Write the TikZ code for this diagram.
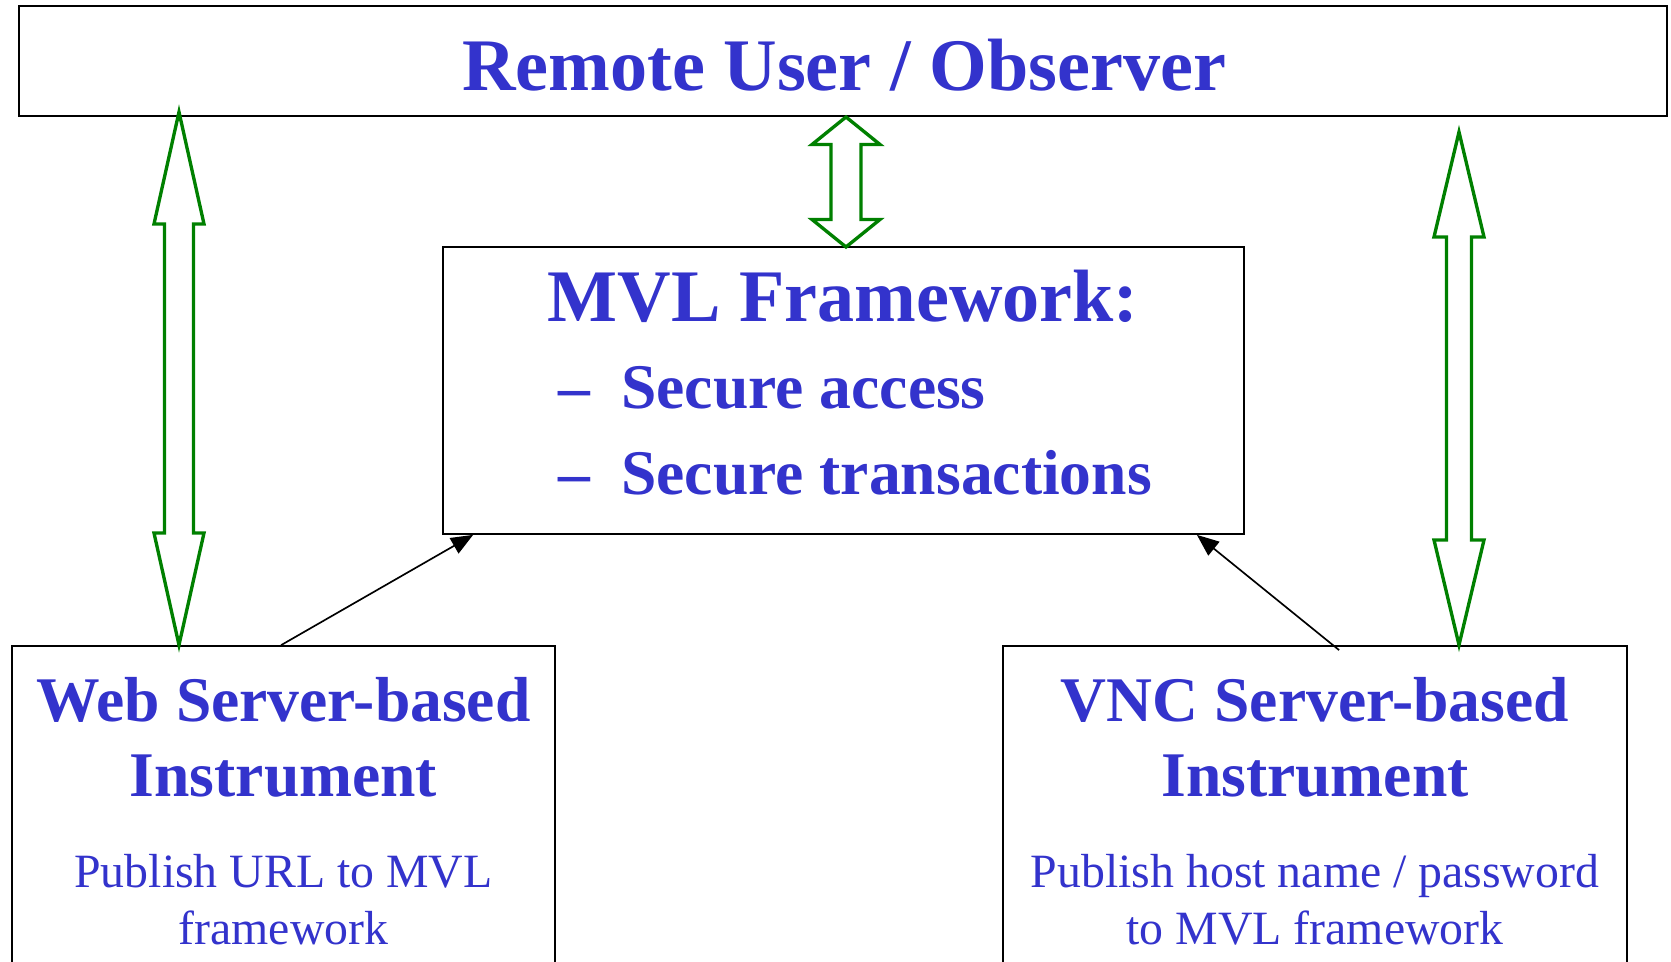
\documentclass[tikz,border=0pt]{standalone}
\usepackage{fontspec}
\setmainfont{Liberation Serif}
\usetikzlibrary{arrows.meta,calc,fit}
\definecolor{txtblue}{RGB}{51,51,204}
\definecolor{arrgreen}{RGB}{0,128,0}

% hollow two-headed block arrow: x, y of top tip, y of bottom tip,
% half width of the heads, half width of the shaft, length of each head
\newcommand{\blockarrow}[6]{%
  \draw[garrow] (#1,#2) -- ({#1+#4},{#2+#6}) -- ({#1+#5},{#2+#6})
    -- ({#1+#5},{#3-#6}) -- ({#1+#4},{#3-#6}) -- (#1,#3)
    -- ({#1-#4},{#3-#6}) -- ({#1-#5},{#3-#6}) -- ({#1-#5},{#2+#6})
    -- ({#1-#4},{#2+#6}) -- cycle;}

\begin{document}
\begin{tikzpicture}[x=0.02cm,y=-0.02cm,
  box/.style={draw=black, line width=1pt, inner sep=0pt},
  garrow/.style={draw=arrgreen, line width=1.9pt, fill=white, line join=miter},
  link/.style={draw=black, line width=0.95pt, -{Triangle[length=12.5pt,width=10pt]}},
  bigtext/.style={text=txtblue, font=\fontsize{42.2}{50}\selectfont\bfseries, anchor=base, inner sep=0pt},
  midtext/.style={text=txtblue, font=\fontsize{36.2}{43}\selectfont\bfseries, anchor=base, inner sep=0pt},
  smalltext/.style={text=txtblue, font=\fontsize{27.2}{32}\selectfont, anchor=base, inner sep=0pt}]
\clip (0,0) rectangle (1671,962);
\fill[white] (0,0) rectangle (1671,962);

% boxes
\node[box, fit={(19,6) (1667,116)}] (top) {};
\node[box, fit={(443,247) (1244,534)}] (mvl) {};
\node[box, fit={(12,646) (555,1000)}] (web) {};
\node[box, fit={(1003,646) (1627,1000)}] (vnc) {};

% texts
\node[bigtext] (toptxt) at (844,91) {Remote User / Observer};
\node[bigtext] (mvltxt) at (843,322) {MVL Framework:};
\node[midtext, anchor=base west] (d1) at (558,409) {–};
\node[midtext, anchor=base west] (s1) at (621,409) {Secure access};
\node[midtext, anchor=base west] (d2) at (558,494.5) {–};
\node[midtext, anchor=base west] (s2) at (621,494.5) {Secure transactions};

\node[midtext] (w1) at (283.5,721.5) {Web Server-based};
\node[midtext] (w2) at (283.5,796) {Instrument};
\node[smalltext] (w3) at (283.5,887) {Publish URL to MVL};
\node[smalltext] (w4) at (283.5,944) {framework};

\node[midtext] (v1) at (1315,721.5) {VNC Server-based};
\node[midtext] (v2) at (1315,796) {Instrument};
\node[smalltext] (v3) at (1315,887) {Publish host name / password};
\node[smalltext] (v4) at (1315,944) {to MVL framework};

% green two-way links
\blockarrow{179}{112}{645}{25}{14.5}{112}
\blockarrow{846}{117}{247}{34}{15}{27.5}
\blockarrow{1459}{132}{645}{25}{12.5}{105}

% registration links
\coordinate (wstart) at ($(web.north west)+(270,0)$);
\coordinate (wend) at ($(mvl.south west)+(31,0)$);
\coordinate (vstart) at ($(vnc.north west)+(337,5)$);
\coordinate (vend) at ($(mvl.south east)+(-48,0)$);
\draw[link] (wstart) -- (wend);
\draw[link] (vstart) -- (vend);
\end{tikzpicture}
\end{document}
